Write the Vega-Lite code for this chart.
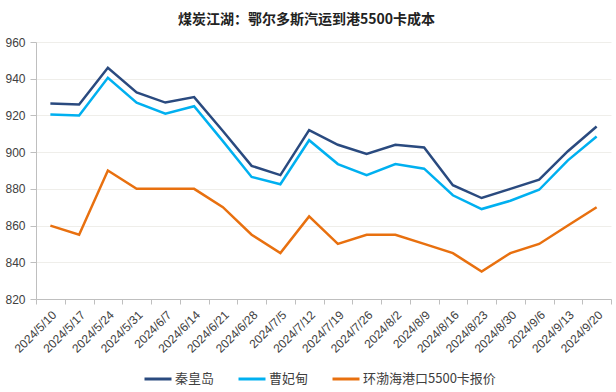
{
  "$schema": "https://vega.github.io/schema/vega-lite/v6.json",
  "width": 575,
  "height": 257,
  "autosize": {"type": "none"},
  "padding": {"left": 36, "top": 42, "right": 5, "bottom": 93},
  "background": "white",
  "title": {
    "text": "煤炭江湖：鄂尔多斯汽运到港5500卡成本",
    "font": "Noto Sans CJK SC",
    "fontSize": 14,
    "fontWeight": "bold",
    "color": "#222222",
    "anchor": "middle",
    "dx": -17,
    "offset": 9
  },
  "config": {
    "view": {"stroke": null},
    "font": "Noto Sans CJK SC"
  },
  "data": {
    "values": [
      {"date": "2024/5/10", "s": "秦皇岛", "v": 926.5},
      {"date": "2024/5/17", "s": "秦皇岛", "v": 926},
      {"date": "2024/5/24", "s": "秦皇岛", "v": 946},
      {"date": "2024/5/31", "s": "秦皇岛", "v": 932.5},
      {"date": "2024/6/7", "s": "秦皇岛", "v": 927},
      {"date": "2024/6/14", "s": "秦皇岛", "v": 930},
      {"date": "2024/6/21", "s": "秦皇岛", "v": 911.5},
      {"date": "2024/6/28", "s": "秦皇岛", "v": 892.5},
      {"date": "2024/7/5", "s": "秦皇岛", "v": 887.5},
      {"date": "2024/7/12", "s": "秦皇岛", "v": 912},
      {"date": "2024/7/19", "s": "秦皇岛", "v": 904},
      {"date": "2024/7/26", "s": "秦皇岛", "v": 899},
      {"date": "2024/8/2", "s": "秦皇岛", "v": 904},
      {"date": "2024/8/9", "s": "秦皇岛", "v": 902.5},
      {"date": "2024/8/16", "s": "秦皇岛", "v": 882},
      {"date": "2024/8/23", "s": "秦皇岛", "v": 875},
      {"date": "2024/8/30", "s": "秦皇岛", "v": 880},
      {"date": "2024/9/6", "s": "秦皇岛", "v": 885},
      {"date": "2024/9/13", "s": "秦皇岛", "v": 900.5},
      {"date": "2024/9/20", "s": "秦皇岛", "v": 914},
      {"date": "2024/5/10", "s": "曹妃甸", "v": 920.5},
      {"date": "2024/5/17", "s": "曹妃甸", "v": 920},
      {"date": "2024/5/24", "s": "曹妃甸", "v": 940.5},
      {"date": "2024/5/31", "s": "曹妃甸", "v": 927},
      {"date": "2024/6/7", "s": "曹妃甸", "v": 921},
      {"date": "2024/6/14", "s": "曹妃甸", "v": 925},
      {"date": "2024/6/21", "s": "曹妃甸", "v": 906},
      {"date": "2024/6/28", "s": "曹妃甸", "v": 886.5},
      {"date": "2024/7/5", "s": "曹妃甸", "v": 882.5},
      {"date": "2024/7/12", "s": "曹妃甸", "v": 906.5},
      {"date": "2024/7/19", "s": "曹妃甸", "v": 893.5},
      {"date": "2024/7/26", "s": "曹妃甸", "v": 887.5},
      {"date": "2024/8/2", "s": "曹妃甸", "v": 893.5},
      {"date": "2024/8/9", "s": "曹妃甸", "v": 891},
      {"date": "2024/8/16", "s": "曹妃甸", "v": 876.5},
      {"date": "2024/8/23", "s": "曹妃甸", "v": 869},
      {"date": "2024/8/30", "s": "曹妃甸", "v": 873.5},
      {"date": "2024/9/6", "s": "曹妃甸", "v": 879.5},
      {"date": "2024/9/13", "s": "曹妃甸", "v": 895.5},
      {"date": "2024/9/20", "s": "曹妃甸", "v": 908.5},
      {"date": "2024/5/10", "s": "环渤海港口5500卡报价", "v": 860},
      {"date": "2024/5/17", "s": "环渤海港口5500卡报价", "v": 855},
      {"date": "2024/5/24", "s": "环渤海港口5500卡报价", "v": 890},
      {"date": "2024/5/31", "s": "环渤海港口5500卡报价", "v": 880},
      {"date": "2024/6/7", "s": "环渤海港口5500卡报价", "v": 880},
      {"date": "2024/6/14", "s": "环渤海港口5500卡报价", "v": 880},
      {"date": "2024/6/21", "s": "环渤海港口5500卡报价", "v": 870},
      {"date": "2024/6/28", "s": "环渤海港口5500卡报价", "v": 855},
      {"date": "2024/7/5", "s": "环渤海港口5500卡报价", "v": 845},
      {"date": "2024/7/12", "s": "环渤海港口5500卡报价", "v": 865},
      {"date": "2024/7/19", "s": "环渤海港口5500卡报价", "v": 850},
      {"date": "2024/7/26", "s": "环渤海港口5500卡报价", "v": 855},
      {"date": "2024/8/2", "s": "环渤海港口5500卡报价", "v": 855},
      {"date": "2024/8/9", "s": "环渤海港口5500卡报价", "v": 850},
      {"date": "2024/8/16", "s": "环渤海港口5500卡报价", "v": 845},
      {"date": "2024/8/23", "s": "环渤海港口5500卡报价", "v": 835},
      {"date": "2024/8/30", "s": "环渤海港口5500卡报价", "v": 845},
      {"date": "2024/9/6", "s": "环渤海港口5500卡报价", "v": 850},
      {"date": "2024/9/13", "s": "环渤海港口5500卡报价", "v": 860},
      {"date": "2024/9/20", "s": "环渤海港口5500卡报价", "v": 870}
    ]
  },
  "mark": {"type": "line", "strokeWidth": 2.5},
  "encoding": {
    "x": {
      "field": "date",
      "type": "ordinal",
      "sort": null,
      "scale": {"type": "band", "paddingInner": 0, "paddingOuter": 0},
      "axis": {
        "title": null,
        "labelAngle": -45,
        "labelAlign": "right",
        "labelBaseline": "top",
        "labelFont": "Liberation Sans",
        "labelFontSize": 12,
        "labelColor": "#404040",
        "labelPadding": 5,
        "tickBand": "extent",
        "tickSize": 5,
        "tickColor": "#BFBFBF",
        "domainColor": "#BFBFBF",
        "grid": false
      }
    },
    "y": {
      "field": "v",
      "type": "quantitative",
      "scale": {"domain": [820, 960], "nice": false, "zero": false},
      "axis": {
        "title": null,
        "values": [820, 840, 860, 880, 900, 920, 940, 960],
        "labelFont": "Liberation Sans",
        "labelFontSize": 12,
        "labelColor": "#404040",
        "labelPadding": 5,
        "tickSize": 6,
        "tickColor": "#BFBFBF",
        "domainColor": "#BFBFBF",
        "gridColor": "#EFEEEA",
        "grid": true
      }
    },
    "color": {
      "field": "s",
      "type": "nominal",
      "sort": ["秦皇岛", "曹妃甸", "环渤海港口5500卡报价"],
      "scale": {
        "domain": ["秦皇岛", "曹妃甸", "环渤海港口5500卡报价"],
        "range": ["#2A4A7F", "#00B0F0", "#E8700F"]
      },
      "legend": {
        "title": null,
        "orient": "none",
        "direction": "horizontal",
        "legendX": 107,
        "legendY": 322,
        "symbolType": "stroke",
        "symbolSize": 729,
        "symbolStrokeWidth": 3,
        "labelFontSize": 13,
        "labelColor": "#404040",
        "labelOffset": 2,
        "columnPadding": 17
      }
    }
  }
}
